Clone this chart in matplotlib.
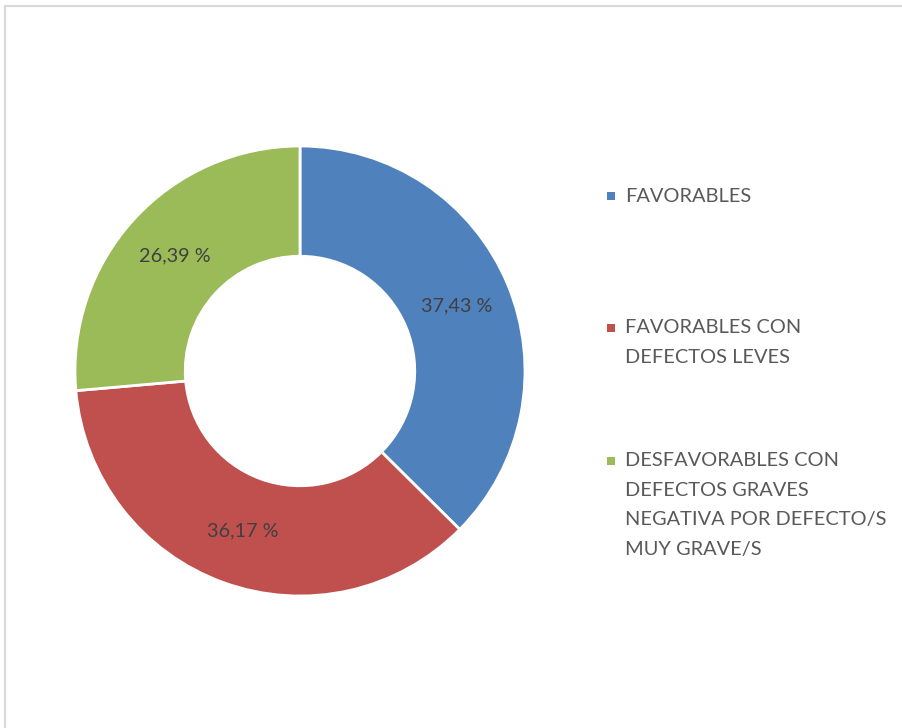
import matplotlib
matplotlib.use("Agg")
import matplotlib.pyplot as plt
import numpy as np
from matplotlib.patches import Rectangle

categories = [
    "FAVORABLES",
    "FAVORABLES CON\nDEFECTOS LEVES",
    "DESFAVORABLES CON\nDEFECTOS GRAVES\nNEGATIVA POR DEFECTO/S\nMUY GRAVE/S",
]
values = [37.43, 36.17, 26.39]
value_labels = ["37,43 %", "36,17 %", "26,39 %"]
colors = ["#4F81BD", "#C0504D", "#9BBB59"]

W, H = 902, 728
plt.rcParams["font.family"] = ["Lato", "DejaVu Sans"]

fig = plt.figure(figsize=(W / 100, H / 100), dpi=100)
fig.patch.set_facecolor("white")

# light frame of the chart area (cut off at right and bottom)
frame = Rectangle((5 / W, -0.1), 1.2, 1 - 6 / H + 0.1, transform=fig.transFigure,
                  fill=False, edgecolor="#D9D9D9", linewidth=1.5)
fig.patches.append(frame)

# donut
cx, cy, R = 300, 371, 225
ax = fig.add_axes([(cx - R) / W, (H - cy - R) / H, 2 * R / W, 2 * R / H])
wedges, texts = ax.pie(
    values, colors=colors, startangle=90, counterclock=False, radius=1,
    wedgeprops=dict(width=0.49, edgecolor="white", linewidth=2),
)
ax.set_xlim(-1, 1)
ax.set_ylim(-1, 1)
ax.axis("off")

total = sum(values)
start = 90.0
for v, lab in zip(values, value_labels):
    ang = np.deg2rad(start - v / total * 360 / 2)
    start -= v / total * 360
    r = 0.755
    ax.text(r * np.cos(ang), r * np.sin(ang), lab, ha="center", va="center",
            fontsize=14.3, color="#404040")

# legend drawn by hand so the squares align with the first line
leg_y = [196, 328, 461]
line_h = 29.5
for cat, col, y in zip(categories, colors, leg_y):
    fig.patches.append(Rectangle(((611 - 4) / W, (H - y - 4) / H), 8 / W, 8 / H,
                                 transform=fig.transFigure, facecolor=col, edgecolor="none"))
    for i, line in enumerate(cat.split("\n")):
        fig.text(625 / W, (H - y - i * line_h) / H, line, ha="left", va="center",
                 fontsize=14.4, color="#595959")

fig.savefig("out.png", dpi=100)
